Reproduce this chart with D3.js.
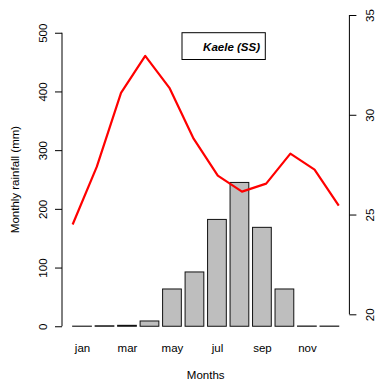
<!DOCTYPE html>
<html>
<head>
<meta charset="utf-8">
<script src="https://cdn.jsdelivr.net/npm/d3@7"></script>
<style>
  html, body { margin: 0; padding: 0; background: #fff; }
  svg { display: block; font-family: "Liberation Sans", Arial, Helvetica, sans-serif; }
</style>
</head>
<body>
<svg id="chart" width="377" height="383"></svg>
<script>
// Monthly climate of Kaele: rainfall bars with a mean-temperature line
const months = ["jan", "feb", "mar", "apr", "may", "jun", "jul", "aug", "sep", "oct", "nov", "dec"];
const rainfall = [0.2, 0.8, 1.6, 9, 63.5, 92.5, 182, 245, 168.5, 63.5, 0.4, 0.3];   // mm
const temperature = [24.5, 27.4, 31.1, 32.95, 31.35, 28.8, 26.95, 26.15, 26.55, 28.05, 27.25, 25.45]; // °C
const rainTicks = [0, 100, 200, 300, 400, 500];
const tempTicks = [20, 25, 30, 35];
const monthLabels = ["jan", "mar", "may", "jul", "sep", "nov"];
const stationName = "Kaele (SS)";

const svg = d3.select("#chart");
const fontSize = 11.5;

// plot region
const plot = { left: 62, right: 349.4, top: 21, bottom: 338 };

// bar positions follow barplot conventions: width 1, gap 0.2, 4% padding
const barSpan = [0.2, 0.2 + 1.2 * (months.length - 1) + 1];
const barPad = 0.04 * (barSpan[1] - barSpan[0]);
const xBar = d3.scaleLinear()
  .domain([barSpan[0] - barPad, barSpan[1] + barPad])
  .range([plot.left, plot.right]);
const barLeft = i => 0.2 + 1.2 * i;

// line positions: month index 1..12 with 4% padding
const linePad = 0.04 * (months.length - 1);
const xLine = d3.scaleLinear()
  .domain([1 - linePad, months.length + linePad])
  .range([plot.left, plot.right]);

const rainPad = 0.04 * 500;
const yRain = d3.scaleLinear()
  .domain([0 - rainPad, 500 + rainPad])
  .range([plot.bottom, plot.top]);

const yTemp = d3.scaleLinear()
  .domain([20, 35])
  .range([314.3, 15]);

// bars
svg.append("g")
  .selectAll("rect")
  .data(rainfall)
  .join("rect")
  .attr("x", (d, i) => xBar(barLeft(i)))
  .attr("width", (d, i) => xBar(barLeft(i) + 1) - xBar(barLeft(i)))
  .attr("y", d => yRain(d))
  .attr("height", d => yRain(0) - yRain(d))
  .attr("fill", "#bebebe")
  .attr("stroke", "#111")
  .attr("stroke-width", 1);

// temperature line
const line = d3.line()
  .x((d, i) => xLine(i + 1))
  .y(d => yTemp(d));
svg.append("path")
  .datum(temperature)
  .attr("d", line)
  .attr("fill", "none")
  .attr("stroke", "#ff0000")
  .attr("stroke-width", 2.2)
  .attr("stroke-linejoin", "round");

// left axis (rainfall)
const leftAxis = svg.append("g")
  .attr("transform", `translate(${plot.left},0)`)
  .call(d3.axisLeft(yRain).tickValues(rainTicks).tickSize(7).tickSizeOuter(0));
leftAxis.select(".domain").remove();
leftAxis.append("line")
  .attr("x1", 0).attr("x2", 0)
  .attr("y1", yRain(rainTicks[0])).attr("y2", yRain(rainTicks[rainTicks.length - 1]))
  .attr("stroke", "#000");
leftAxis.selectAll(".tick line").attr("stroke", "#000");
leftAxis.selectAll(".tick text")
  .attr("x", null).attr("dy", null)
  .attr("transform", "translate(-19.5,0) rotate(-90)")
  .attr("dy", "0.36em")
  .attr("text-anchor", "middle")
  .attr("font-size", fontSize)
  .attr("font-family", "Liberation Sans, Arial, sans-serif")
  .attr("fill", "#000");

// right axis (temperature)
const rightAxis = svg.append("g")
  .attr("transform", `translate(${plot.right},0)`)
  .call(d3.axisRight(yTemp).tickValues(tempTicks).tickSize(7).tickSizeOuter(0));
rightAxis.select(".domain").remove();
rightAxis.append("line")
  .attr("x1", 0).attr("x2", 0)
  .attr("y1", yTemp(tempTicks[0])).attr("y2", yTemp(tempTicks[tempTicks.length - 1]))
  .attr("stroke", "#000");
rightAxis.selectAll(".tick line").attr("stroke", "#000");
rightAxis.selectAll(".tick text")
  .attr("x", null).attr("dy", null)
  .attr("transform", "translate(20.6,0) rotate(-90)")
  .attr("dy", "0.36em")
  .attr("text-anchor", "middle")
  .attr("font-size", fontSize)
  .attr("font-family", "Liberation Sans, Arial, sans-serif")
  .attr("fill", "#000");

// month labels under bars (no tick marks)
const xBand = d3.scaleOrdinal()
  .domain(months)
  .range(months.map((m, i) => xBar(barLeft(i) + 0.5)));
const bottomAxis = svg.append("g")
  .attr("transform", `translate(0,${plot.bottom})`)
  .call(d3.axisBottom(xBand).tickValues(monthLabels).tickSize(0).tickPadding(0));
bottomAxis.select(".domain").remove();
bottomAxis.selectAll(".tick text")
  .attr("y", 13.5)
  .attr("dy", null)
  .attr("font-size", fontSize)
  .attr("font-family", "Liberation Sans, Arial, sans-serif")
  .attr("fill", "#000");

// axis titles
svg.append("text")
  .attr("x", (plot.left + plot.right) / 2)
  .attr("y", 379)
  .attr("text-anchor", "middle")
  .attr("font-size", fontSize)
  .text("Months");

svg.append("text")
  .attr("transform", `translate(15,${(yRain(0) + yRain(500)) / 2}) rotate(-90)`)
  .attr("dy", "0.36em")
  .attr("text-anchor", "middle")
  .attr("font-size", fontSize)
  .text("Monthly rainfall (mm)");

// station box
svg.append("rect")
  .attr("x", 182).attr("y", 32.7)
  .attr("width", 83.3).attr("height", 26.8)
  .attr("fill", "#fff")
  .attr("stroke", "#000")
  .attr("stroke-width", 1);
svg.append("text")
  .attr("x", 260)
  .attr("y", 51)
  .attr("text-anchor", "end")
  .attr("font-size", fontSize)
  .attr("font-weight", "bold")
  .attr("font-style", "italic")
  .text(stationName);
</script>
</body>
</html>
